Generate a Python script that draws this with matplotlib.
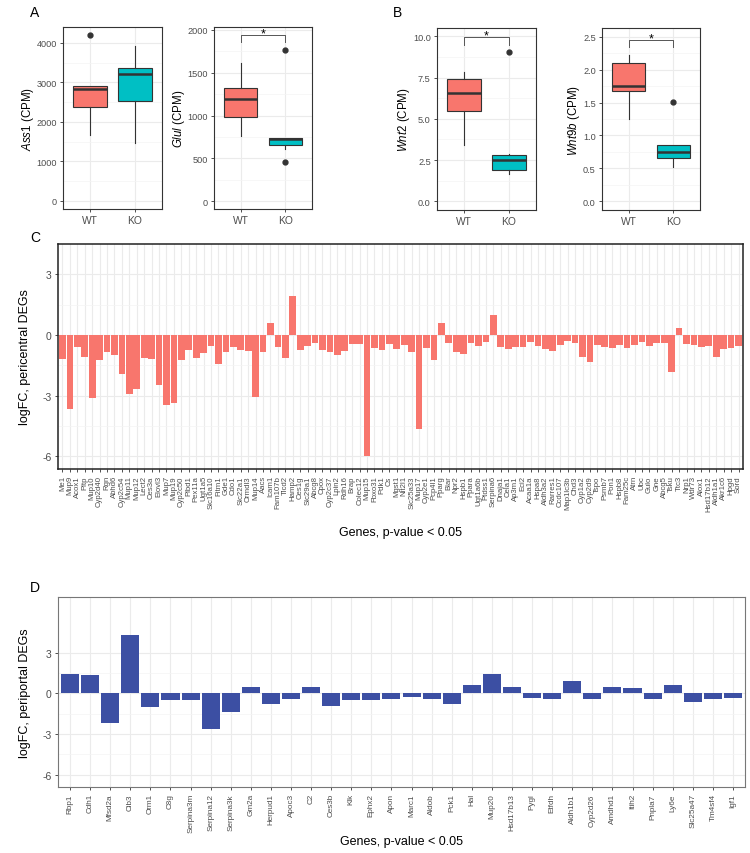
import matplotlib

matplotlib.use("Agg")
import matplotlib.pyplot as plt  # noqa: E402
import numpy as np  # noqa: E402

W, H = 750, 854

plt.rcParams["font.family"] = ["Liberation Sans", "DejaVu Sans"]
plt.rcParams["mathtext.fontset"] = "custom"
plt.rcParams["mathtext.it"] = "Liberation Sans:italic"
plt.rcParams["mathtext.rm"] = "Liberation Sans"

NARROW = ["Liberation Sans Narrow", "Liberation Sans", "DejaVu Sans"]
RED = "#F8766D"
TEAL = "#00BFC4"
BLUE = "#3C4FA3"
EDGE = "#333333"
TICKC = "#4D4D4D"
GRID = "#EBEBEB"

# ---- boxplot panels: [whisker low, Q1, median, Q3, whisker high] ----
GROUPS = ["WT", "KO"]
ASS1_WT = [1660, 2365, 2840, 2920, 2920]
ASS1_KO = [1470, 2517, 3215, 3360, 3915]
ASS1_OUT = [[4200], []]
GLUL_WT = [762, 983, 1196, 1321, 1612]
GLUL_KO = [614, 652, 722, 738, 738]
GLUL_OUT = [[], [459, 1771]]
WNT2_WT = [3.41, 5.45, 6.55, 7.41, 7.85]
WNT2_KO = [1.65, 1.90, 2.52, 2.81, 2.88]
WNT2_OUT = [[], [9.03]]
WNT9B_WT = [1.257, 1.676, 1.752, 2.106, 2.217]
WNT9B_KO = [0.515, 0.651, 0.752, 0.850, 0.853]
WNT9B_OUT = [[], [1.515]]

# significance brackets: (drop, top, star)
GLUL_SIG = (1857, 1942, 1965)
WNT2_SIG = (9.50, 9.94, 10.05)
WNT9B_SIG = (2.34, 2.45, 2.47)

# ---- panel C: pericentral DEGs ----
PC_GENES = [
    "Me1", "Mup9", "Acox1", "Pltp", "Mup10", "Cyp2d40",
    "Rgn", "Abhd6", "Cyp2c54", "Mup11", "Mup12", "Lect2", "Ces3a", "Elovl3",
    "Mup7", "Mup19", "Cyp2c50", "Plbd1", "Pex11a", "Ugt1a5", "Slc16a10", "Fitm1",
    "Gde1", "Cdo1", "Slc22a1", "Ormdl3", "Mup14", "Aacs", "Icam1", "Fam107b",
    "Tlcd2", "Hamp2", "Ces1g", "Slc29a1", "Abcg8", "Cpox", "Cyp2c37", "Lpin2",
    "Rdh16", "Brap", "Colec12", "Mup15", "Fbxo31", "Pdk1", "Cs", "Mgst1",
    "Nit2l1", "Slc25a33", "Mup17", "Cyp2e1", "Pcp4l1", "Pparg", "Blar", "Npr2",
    "Hspb1", "Ppara", "Ugt1a6b", "Ptdss1", "Serpina6", "Dnaja1", "Cela1",
    "Ap3m1", "Eci2", "Acaa1a", "Hspa8", "Aldh3a2", "Rarres1", "Ccdc107",
    "Map1lc3b", "Chd3", "Cyp1a2", "Cyp2d9", "Tspo", "Psmb7", "Pon1", "Hspb8",
    "Fam25c", "Atrn", "Ubc", "Gulo", "Gne", "Abcg5", "Tsku", "Ttc3", "Nrp1",
    "Wdr73", "Alox1", "Hsd17b12", "Aldh1a1", "Akr1c6", "Hpgd", "Sord",
]
PC_LOGFC = [
    -1.20, -3.66, -0.60, -1.10, -3.13, -1.25,
    -0.85, -1.00, -1.93, -2.92, -2.67, -1.14, -1.19, -2.46,
    -3.44, -3.36, -1.24, -0.74, -1.16, -0.91, -0.54, -1.43,
    -0.82, -0.58, -0.74, -0.81, -3.08, -0.82, 0.60, -0.58,
    -1.14, 1.95, -0.74, -0.53, -0.40, -0.74, -0.86, -0.99,
    -0.77, -0.45, -0.45, -6.00, -0.66, -0.73, -0.45, -0.68,
    -0.48, -0.82, -4.65, -0.66, -1.25, 0.61, -0.40, -0.82,
    -0.94, -0.40, -0.56, -0.35, 0.97, -0.61, -0.69,
    -0.58, -0.61, -0.33, -0.54, -0.71, -0.81, -0.49,
    -0.30, -0.40, -1.09, -1.33, -0.48, -0.58, -0.63, -0.48,
    -0.63, -0.48, -0.33, -0.54, -0.40, -0.40, -1.81, 0.33, -0.45,
    -0.48, -0.59, -0.54, -1.10, -0.69, -0.66, -0.54,
]

# ---- panel D: periportal DEGs ----
PP_GENES = [
    "Rbp1", "Cdh1", "Mfsd2a", "Cib3", "Orm1", "C8g", "Serpina3m", "Serpina12",
    "Serpina3k", "Gm2a", "Herpud1", "Apoc3", "C2", "Ces3b", "Klk", "Ephx2",
    "Apon", "Marc1", "Aldob", "Pck1", "Hal", "Mup20", "Hsd17b13", "Pygl",
    "Etfdh", "Aldh1b1", "Cyp2d26", "Amdhd1", "Itih2", "Pnpla7", "Ly6e",
    "Slc25a47", "Tm4sf4", "Igf1",
]
PP_LOGFC = [
    1.40, 1.35, -2.20, 4.30, -1.00, -0.50, -0.50, -2.60,
    -1.40, 0.50, -0.75, -0.45, 0.45, -0.95, -0.50, -0.50,
    -0.40, -0.30, -0.40, -0.80, 0.65, 1.40, 0.45, -0.35,
    -0.45, 0.90, -0.45, 0.45, 0.40, -0.40, 0.60,
    -0.65, -0.40, -0.35,
]


def add_ax(fig, left, top, right, bottom):
    """Axes placed by pixel edges of the 750x854 canvas."""
    return fig.add_axes([left / W, 1 - bottom / H, (right - left) / W, (bottom - top) / H])


def style_frame(ax, lw=0.8, color=EDGE):
    for sp in ax.spines.values():
        sp.set_color(color)
        sp.set_linewidth(lw)
    ax.set_axisbelow(True)
    ax.grid(which="major", color=GRID, lw=0.8)
    ax.grid(which="minor", color="#F4F4F4", lw=0.5)
    ax.tick_params(which="major", color=EDGE, length=2.5, width=0.6, labelcolor=TICKC, pad=2)
    ax.tick_params(which="minor", length=0)


def box_panel(ax, wt, ko, outs, ylim, ticks, fmt, gene, sig=None):
    stats = []
    for vals, fl in zip((wt, ko), outs):
        lo, q1, med, q3, hi = vals
        stats.append(dict(whislo=lo, q1=q1, med=med, q3=q3, whishi=hi, fliers=fl))
    parts = ax.bxp(
        stats, positions=[1, 2], widths=0.75, patch_artist=True, showcaps=False,
        boxprops=dict(edgecolor=EDGE, linewidth=0.8),
        whiskerprops=dict(color=EDGE, linewidth=0.8),
        medianprops=dict(color=EDGE, linewidth=1.8),
        flierprops=dict(marker="o", markerfacecolor=EDGE, markeredgecolor=EDGE, markersize=3.5),
    )
    for patch, c in zip(parts["boxes"], (RED, TEAL)):
        patch.set_facecolor(c)
    ax.set_xlim(0.4, 2.6)
    ax.set_ylim(*ylim)
    ax.set_yticks(ticks)
    ax.set_yticks([(a + b) / 2 for a, b in zip(ticks[:-1], ticks[1:])], minor=True)
    ax.set_yticklabels([fmt.format(t) for t in ticks], family=NARROW, fontsize=6.6)
    ax.set_xticks([1, 2])
    ax.set_xticklabels(GROUPS, family=NARROW, fontsize=7.4)
    ax.set_ylabel(r"$\it{" + gene + r"}$ (CPM)", fontsize=8.3, labelpad=0.5)
    style_frame(ax)
    if sig is not None:
        drop, top, star = sig
        ax.plot([1, 1, 2, 2], [drop, top, top, drop], color="#555555", lw=0.7)
        ax.text(1.5, star, "*", ha="center", va="center", fontsize=9)


def bar_panel(ax, genes, vals, color, ylim, ylabel, label_size, frame_lw, frame_c, xpad):
    x = np.arange(len(genes))
    ax.bar(x, vals, width=0.9, color=color, zorder=2)
    ax.set_xlim(-0.6, len(genes) - 0.4)
    ax.set_ylim(*ylim)
    ax.set_yticks([-6, -3, 0, 3])
    ax.set_yticks([-4.5, -1.5, 1.5], minor=True)
    ax.set_yticklabels(["-6", "-3", "0", "3"], fontsize=7.5)
    ax.set_xticks(x)
    ax.set_xticklabels(genes, rotation=90, fontsize=label_size)
    ax.set_xlabel("Genes, p-value < 0.05", fontsize=9, labelpad=xpad)
    ax.set_ylabel(ylabel, fontsize=9, labelpad=8)
    style_frame(ax, lw=frame_lw, color=frame_c)


def main():
    fig = plt.figure(figsize=(W / 100, H / 100), dpi=100)

    box_panel(add_ax(fig, 63, 28, 162, 210), ASS1_WT, ASS1_KO, ASS1_OUT,
              (-210, 4405), [0, 1000, 2000, 3000, 4000], "{:.0f}", "Ass1")
    box_panel(add_ax(fig, 214, 28, 312, 210), GLUL_WT, GLUL_KO, GLUL_OUT,
              (-90, 2035), [0, 500, 1000, 1500, 2000], "{:.0f}", "Glul", GLUL_SIG)
    box_panel(add_ax(fig, 437, 29, 536, 211), WNT2_WT, WNT2_KO, WNT2_OUT,
              (-0.53, 10.5), [0, 2.5, 5, 7.5, 10], "{:.1f}", "Wnt2", WNT2_SIG)
    box_panel(add_ax(fig, 602, 29, 700, 211), WNT9B_WT, WNT9B_KO, WNT9B_OUT,
              (-0.13, 2.63), [0, 0.5, 1.0, 1.5, 2.0, 2.5], "{:.1f}", "Wnt9b", WNT9B_SIG)

    bar_panel(add_ax(fig, 58, 245, 743, 470), PC_GENES, PC_LOGFC, RED,
              (-6.63, 4.5), "logFC, pericentral DEGs", 5.6, 1.1, "#222222", 11)
    bar_panel(add_ax(fig, 58, 598, 745, 788), PP_GENES, PP_LOGFC, BLUE,
              (-6.9, 7.1), "logFC, periportal DEGs", 5.9, 0.8, "#777777", 2)

    for lab, px, py in (("A", 35, 13), ("B", 397, 13), ("C", 35, 238), ("D", 35, 588)):
        fig.text(px / W, 1 - py / H, lab, fontsize=10, ha="center", va="center")

    fig.savefig("out.png", dpi=100)
    plt.close(fig)


if __name__ == "__main__":
    main()
